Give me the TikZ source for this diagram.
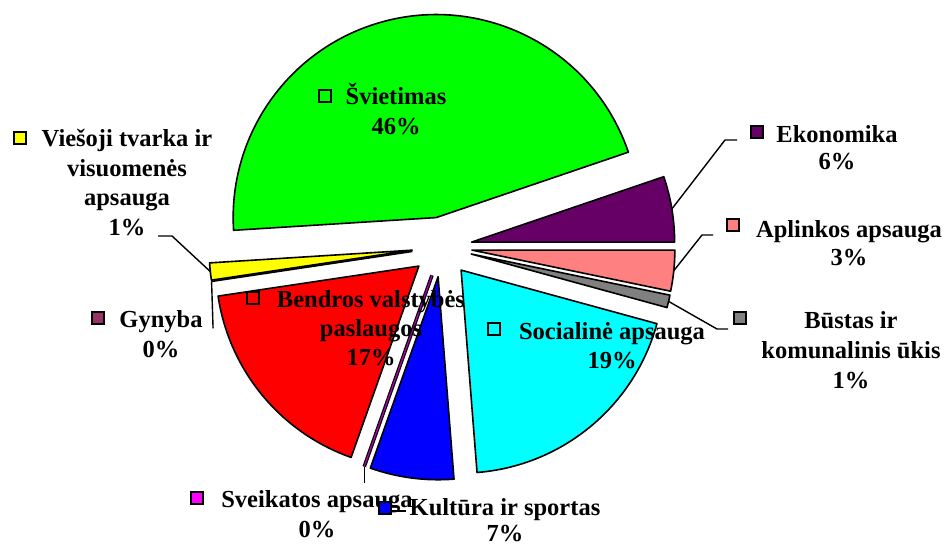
\documentclass[tikz,border=0pt]{standalone}
\usepackage{fontspec}
\setmainfont{Liberation Serif}
\usetikzlibrary{calc}
\definecolor{cGreen}{HTML}{00FF00}
\definecolor{cEko}{HTML}{660066}
\definecolor{cApl}{HTML}{FF8080}
\definecolor{cBus}{HTML}{808080}
\definecolor{cSoc}{HTML}{00FFFF}
\definecolor{cKul}{HTML}{0000FF}
\definecolor{cSve}{HTML}{FF00FF}
\definecolor{cBen}{HTML}{FF0000}
\definecolor{cGyn}{HTML}{993366}
\definecolor{cVie}{HTML}{FFFF00}
\newcommand\mylines[2]{\vtop{\baselineskip=#1pt\halign{\hfil##\hfil\cr#2\crcr}}}
\newcommand\pieslice[4]{%
  \pgfmathsetmacro\slbis{(#3+#4)/2}%
  \coordinate (#1) at ($(C)+(\slbis:30)$);
  \filldraw[slc, fill=#2] (#1) -- ++(#3:203) arc[start angle=#3, end angle=#4, radius=203] -- cycle;
}
\tikzset{
  lbl/.style={anchor=base, inner sep=0pt, font=\fontsize{24.5}{29.5}\selectfont\bfseries},
  key/.style={draw=black, line width=1.4pt, minimum size=12pt, inner sep=0pt},
  lead/.style={draw=black, line width=1.4pt},
  slc/.style={draw=black, line width=1.6pt, line join=round},
}
\begin{document}
\begin{tikzpicture}[x=1pt,y=1pt]
\useasboundingbox (0,0) rectangle (952,547);
\coordinate (C) at (442,300);
% slices
\pieslice{sv}{cGreen}{18.8}{183.6}
\pieslice{ek}{cEko}{0}{18.8}
\pieslice{ap}{cApl}{-11.7}{0}
\pieslice{bu}{cBus}{-15.3}{-11.7}
\pieslice{so}{cSoc}{-85.5}{-15.3}
\pieslice{ku}{cKul}{-109.5}{-85.5}
\pieslice{be}{cBen}{-171.5}{-109.5}
\pieslice{vi}{cVie}{183.6}{188.5}
% zero slices
\coordinate (sva) at ($(C)+(-109.5:30)$);
\coordinate (svb) at ($(sva)+(-109.5:203)$);
\draw[black, line width=3.6pt] (sva) -- (svb);
\draw[cSve!70!black, line width=1.2pt] (sva) -- (svb);
\coordinate (gya) at ($(C)+(188.5:30)$);
\coordinate (gyb) at ($(gya)+(188.5:203)$);
\draw[black, line width=1.6pt] (gya) -- (gyb);
% leader lines
\coordinate (ekp) at ($(ek)+(9.4:203)$);
\coordinate (ekq) at (725,407);
\coordinate (ekr) at (737,407);
\draw[lead] (ekp) -- (ekq) -- (ekr);
\coordinate (app) at ($(ap)+(-5.85:203)$);
\coordinate (apq) at (702,312);
\coordinate (apr) at (713,312);
\draw[lead] (app) -- (apq) -- (apr);
\coordinate (bup) at ($(bu)+(-13.5:203)$);
\coordinate (buq) at (717,218);
\coordinate (bur) at (728,218);
\draw[lead] (bup) -- (buq) -- (bur);
\coordinate (vip) at ($(vi)+(186.05:203)$);
\coordinate (viq) at (172,311);
\coordinate (vir) at (158,311);
\draw[lead] (vip) -- (viq) -- (vir);
\coordinate (gyq) at ($(gyb)+(1.5,-47)$);
\draw[lead] (gyb) -- (gyq);
\coordinate (svq) at ($(svb)+(0,-16)$);
\draw[lead] (svb) -- (svq);
% labels
\node[lbl] (tsv) at (396,442) {\mylines{29.5}{Švietimas\cr 46\%}};
\node[key, fill=cGreen] (ksv) at (325,451) {};
\node[lbl] (tvi) at (127,400) {\mylines{29.5}{Viešoji tvarka ir\cr visuomenės\cr apsauga\cr 1\%}};
\node[key, fill=cVie] (kvi) at (20,409) {};
\node[lbl] (tgy) at (161,220) {\mylines{30}{Gynyba\cr 0\%}};
\node[key, fill=cGyn] (kgy) at (98,229) {};
\node[lbl] (tbe) at (371,240) {\mylines{29}{Bendros valstybės\cr paslaugos\cr 17\%}};
\node[key, fill=cBen] (kbe) at (253,249) {};
\node[lbl] (tsa) at (317,40) {\mylines{30}{Sveikatos apsauga\cr 0\%}};
\node[key, fill=cSve] (ksa) at (197,49) {};
\node[lbl] (tku) at (505,32) {\mylines{26}{Kultūra ir sportas\cr 7\%}};
\coordinate (kud1) at (392,36);
\coordinate (kud2) at (406,36);
\draw[lead] (kud1) -- (kud2);
\node[key, fill=cKul] (kku) at (385,39) {};
\node[lbl] (tso) at (612,208) {\mylines{29}{Socialinė apsauga\cr 19\%}};
\node[key, fill=cSoc] (kso) at (494,218) {};
\node[lbl] (tbu) at (851,219) {\mylines{30}{Būstas ir\cr komunalinis ūkis\cr 1\%}};
\node[key, fill=cBus] (kbu) at (740,229) {};
\node[lbl] (tap) at (849,310) {\mylines{28}{Aplinkos apsauga\cr 3\%}};
\node[key, fill=cApl] (kap) at (733,322) {};
\node[lbl] (tek) at (837,404) {\mylines{27}{Ekonomika\cr 6\%}};
\node[key, fill=cEko] (kek) at (757,415) {};
\end{tikzpicture}
\end{document}
